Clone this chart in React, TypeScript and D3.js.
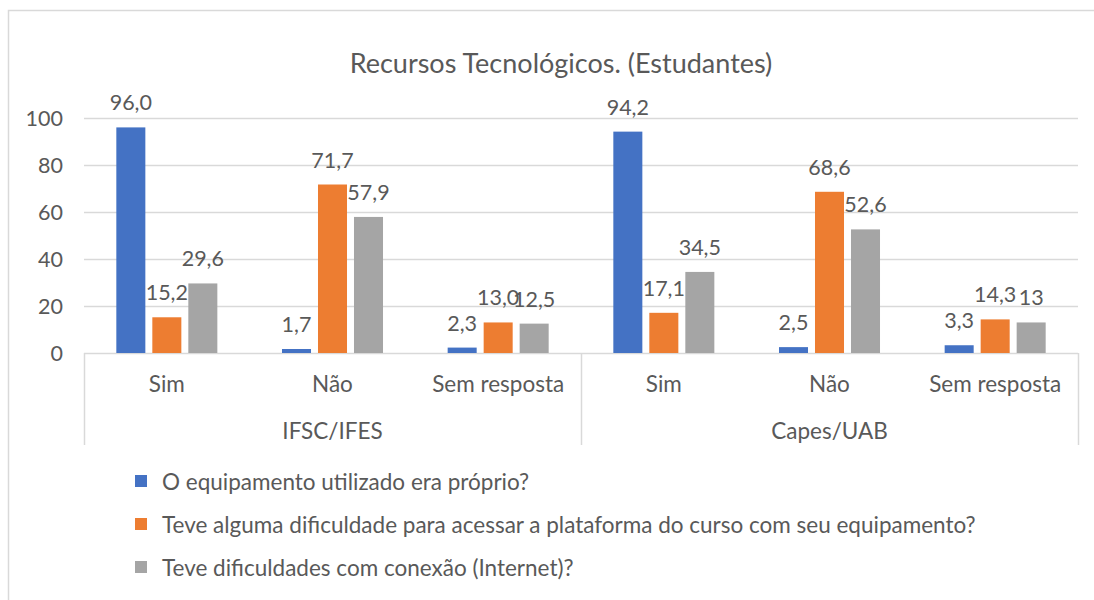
import React, { useRef, useEffect } from 'react';
import * as d3 from 'd3';

// Data
const groups = ['IFSC/IFES', 'Capes/UAB'];
const categories = ['Sim', 'Não', 'Sem resposta'];
const series = [
  'O equipamento utilizado era próprio?',
  'Teve alguma dificuldade para acessar a plataforma do curso com seu equipamento?',
  'Teve dificuldades com conexão (Internet)?',
];
const colors = ['#4472C4', '#ED7D31', '#A5A5A5'];
// values per group, per category, per series
const ifscValues = [[96.0, 15.2, 29.6], [1.7, 71.7, 57.9], [2.3, 13.0, 12.5]];
const capesValues = [[94.2, 17.1, 34.5], [2.5, 68.6, 52.6], [3.3, 14.3, 13]];
const ifscLabels = [['96,0', '15,2', '29,6'], ['1,7', '71,7', '57,9'], ['2,3', '13,0', '12,5']];
const capesLabels = [['94,2', '17,1', '34,5'], ['2,5', '68,6', '52,6'], ['3,3', '14,3', '13']];
const yTicks = [0, 20, 40, 60, 80, 100];

const App = () => {
  const svgRef = useRef<SVGSVGElement | null>(null);

  useEffect(() => {
    const width = 1094;
    const height = 600;
    const font = 'Lato, Carlito, "Open Sans", sans-serif';
    const textColor = '#595959';
    const gridColor = '#d9d9d9';
    const plot = { left: 84, right: 1078, top: 118, bottom: 353 };

    const svg = d3.select(svgRef.current)
      .attr('width', width)
      .attr('height', height);
    svg.selectAll('*').remove();

    svg.append('rect')
      .attr('width', width).attr('height', height).attr('fill', '#fff');

    // chart border
    svg.append('rect')
      .attr('x', 8.5).attr('y', 10.5)
      .attr('width', 1200).attr('height', 700)
      .attr('fill', 'none').attr('stroke', gridColor).attr('stroke-width', 1.5);

    // title
    svg.append('text')
      .attr('x', 561).attr('y', 62)
      .attr('text-anchor', 'middle').attr('dominant-baseline', 'central')
      .attr('font-family', font).attr('font-size', 27).attr('fill', textColor)
      .text('Recursos Tecnológicos. (Estudantes)');

    // build rows
    const rows: { key: string; cat: string; group: string; vals: number[]; labels: string[] }[] = [];
    groups.forEach((g, gi) => {
      categories.forEach((c, ci) => {
        rows.push({
          key: g + '|' + c,
          cat: c,
          group: g,
          vals: gi === 0 ? ifscValues[ci] : capesValues[ci],
          labels: gi === 0 ? ifscLabels[ci] : capesLabels[ci],
        });
      });
    });

    // Scales
    const x0 = d3.scaleBand()
      .domain(rows.map(r => r.key))
      .range([plot.left, plot.right])
      .padding(0);
    const x1 = d3.scaleBand()
      .domain(series.map((_, i) => String(i)))
      .range([0, x0.bandwidth()])
      .paddingInner(0.194)
      .paddingOuter(0.898);
    const y = d3.scaleLinear()
      .domain([0, 100])
      .range([plot.bottom, plot.top]);

    // grid lines
    svg.append('g')
      .selectAll('line')
      .data(yTicks)
      .enter()
      .append('line')
      .attr('x1', plot.left).attr('x2', plot.right)
      .attr('y1', d => Math.round(y(d)) + 0.5).attr('y2', d => Math.round(y(d)) + 0.5)
      .attr('stroke', gridColor).attr('stroke-width', 1.5);

    // y labels
    svg.append('g')
      .selectAll('text')
      .data(yTicks)
      .enter()
      .append('text')
      .attr('x', 63).attr('y', d => y(d))
      .attr('text-anchor', 'end').attr('dominant-baseline', 'central')
      .attr('font-family', font).attr('font-size', 21.5).attr('fill', textColor)
      .text(d => String(d));

    // bars
    const cat = svg.append('g')
      .selectAll('g')
      .data(rows)
      .enter()
      .append('g')
      .attr('transform', d => `translate(${x0(d.key)},0)`);

    cat.selectAll('rect')
      .data(d => d.vals.map((v, i) => ({ v, i })))
      .enter()
      .append('rect')
      .attr('x', d => x1(String(d.i)) as number)
      .attr('width', x1.bandwidth())
      .attr('y', d => y(d.v))
      .attr('height', d => y(0) - y(d.v))
      .attr('fill', d => colors[d.i]);

    cat.selectAll('text')
      .data(d => d.vals.map((v, i) => ({ v, i, label: d.labels[i] })))
      .enter()
      .append('text')
      .attr('x', d => (x1(String(d.i)) as number) + x1.bandwidth() / 2)
      .attr('y', d => y(d.v) - 25)
      .attr('text-anchor', 'middle').attr('dominant-baseline', 'central')
      .attr('font-family', font).attr('font-size', 21.5).attr('fill', textColor)
      .text(d => d.label);

    // category axis
    const axisBottom = 445;
    const ax = svg.append('g');
    const bounds = [plot.left, x0(rows[3].key) as number, plot.right];
    bounds.forEach(bx => {
      ax.append('line')
        .attr('x1', bx + 0.5).attr('x2', bx + 0.5)
        .attr('y1', plot.bottom).attr('y2', axisBottom)
        .attr('stroke', gridColor).attr('stroke-width', 1.5);
    });

    ax.selectAll('text.cat')
      .data(rows)
      .enter()
      .append('text')
      .attr('class', 'cat')
      .attr('x', d => (x0(d.key) as number) + x0.bandwidth() / 2)
      .attr('y', 383)
      .attr('text-anchor', 'middle').attr('dominant-baseline', 'central')
      .attr('font-family', font).attr('font-size', 22.5).attr('fill', textColor)
      .text(d => d.cat);

    ax.selectAll('text.grp')
      .data(groups)
      .enter()
      .append('text')
      .attr('class', 'grp')
      .attr('x', (d, i) => (bounds[i] + bounds[i + 1]) / 2)
      .attr('y', 430)
      .attr('text-anchor', 'middle').attr('dominant-baseline', 'central')
      .attr('font-family', font).attr('font-size', 22.5).attr('fill', textColor)
      .text(d => d);

    // legend
    const legend = svg.append('g')
      .selectAll('g')
      .data(series)
      .enter()
      .append('g')
      .attr('transform', (_, i) => `translate(135,${481 + i * 43})`);
    legend.append('rect')
      .attr('x', 0).attr('y', -6).attr('width', 12).attr('height', 12)
      .attr('fill', (_, i) => colors[i]);
    legend.append('text')
      .attr('x', 27).attr('y', 0)
      .attr('dominant-baseline', 'central')
      .attr('font-family', font).attr('font-size', 22.5).attr('fill', textColor)
      .text(d => d);
  }, []);

  return (
    <div style={{ position: 'absolute', left: 0, top: 0, width: '1094px', height: '600px' }}>
      <svg ref={svgRef} style={{ display: 'block' }}></svg>
    </div>
  );
};

export default App;
